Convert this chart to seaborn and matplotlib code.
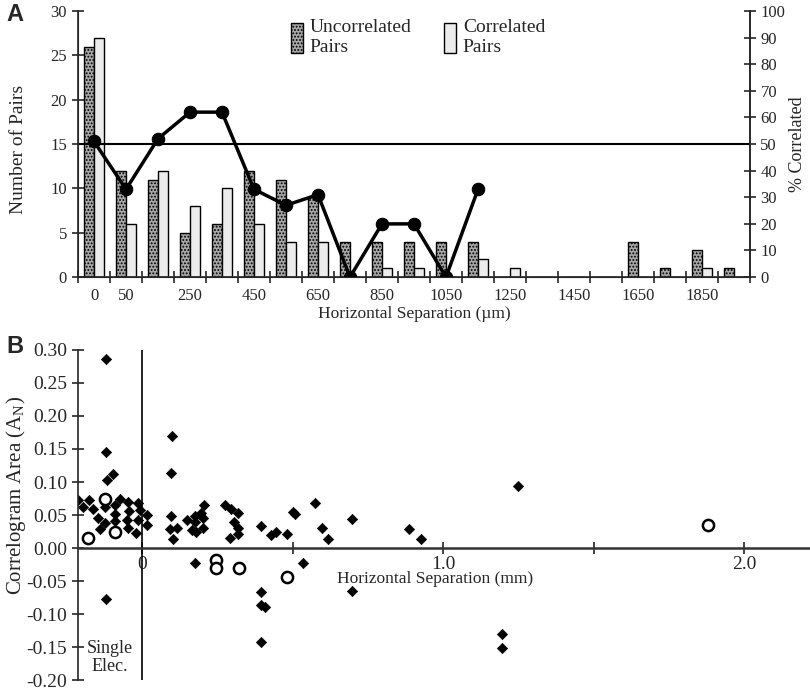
import matplotlib
matplotlib.use('Agg')
import matplotlib.pyplot as plt
from matplotlib.patches import Rectangle
import numpy as np
import pandas as pd
import seaborn as sns

sns.set_style('ticks')
plt.rcParams['font.family'] = ['Liberation Serif', 'DejaVu Serif']
plt.rcParams['hatch.linewidth'] = 0.9

# Panel A: pair counts per horizontal-separation bin (um)
bins = ['0', '50', '150', '250', '350', '450', '550', '650', '750', '850', '950',
        '1050', '1150', '1250', '1350', '1450', '1550', '1650', '1750', '1850', '1950']
uncorrelated = [26, 12, 11, 5, 6, 12, 11, 9, 4, 4, 4, 4, 4, 0, 0, 0, 0, 4, 1, 3, 1]
correlated = [27, 6, 12, 8, 10, 6, 4, 4, 0, 1, 1, 0, 2, 1, 0, 0, 0, 0, 0, 1, 0]
pct_correlated = [51, 33, 52, 62, 62, 33, 27, 31, 0, 20, 20, 0, 33]
shown_labels = ['0', '50', '250', '450', '650', '850', '1050', '1250', '1450', '1650', '1850']

# Panel B: correlogram area vs separation (mm); negative x = single electrode pairs
diamond_x = [-0.212, -0.197, -0.175, -0.164, -0.145, -0.140, -0.120, -0.120, -0.117, -0.095,
             -0.122, -0.122, -0.089, -0.089, -0.089, -0.073, -0.048, -0.044, -0.049, -0.047,
             -0.020, -0.014, -0.014, -0.007, 0.016, 0.016, -0.120,
             0.099, 0.096, 0.096, 0.093, 0.115, 0.104, 0.148, 0.176, 0.176, 0.165,
             0.179, 0.196, 0.202, 0.206, 0.204, 0.276, 0.295, 0.307, 0.319, 0.320,
             0.292, 0.318, 0.395, 0.427, 0.445, 0.483, 0.503, 0.508, 0.575, 0.599,
             0.619, 0.699, 0.888, 0.927, 1.248, 0.177, 0.536, 0.395, 0.395, 0.410,
             0.395, 0.699, 1.197, 1.197]
diamond_y = [0.072, 0.062, 0.072, 0.059, 0.046, 0.029, 0.146, 0.286, 0.103, 0.112,
             0.062, 0.038, 0.065, 0.051, 0.041, 0.075, 0.069, 0.056, 0.043, 0.030,
             0.023, 0.068, 0.043, 0.058, 0.050, 0.035, -0.077,
             0.170, 0.113, 0.049, 0.029, 0.030, 0.013, 0.042, 0.048, 0.040, 0.028,
             0.025, 0.053, 0.046, 0.065, 0.030, 0.065, 0.059, 0.040, 0.053, 0.030,
             0.015, 0.021, 0.034, 0.019, 0.025, 0.021, 0.055, 0.051, 0.068, 0.030,
             0.014, 0.044, 0.029, 0.014, 0.094, -0.023, -0.023, -0.067, -0.086, -0.090,
             -0.142, -0.065, -0.131, -0.152]
circle_x = [-0.178, -0.123, -0.089, 0.246, 0.246, 0.323, 0.481, 1.881]
circle_y = [0.015, 0.074, 0.024, -0.018, -0.031, -0.030, -0.044, 0.035]

fig = plt.figure(figsize=(8.1, 6.91), dpi=100)

# ---------- panel A ----------
ax = fig.add_axes([0.0963, 0.599, 0.8296, 0.385])
df_a = pd.DataFrame({
    'bin': bins * 2,
    'count': uncorrelated + correlated,
    'type': ['Uncorrelated'] * len(bins) + ['Correlated'] * len(bins),
})
sns.barplot(data=df_a, x='bin', y='count', hue='type', order=bins,
            hue_order=['Uncorrelated', 'Correlated'],
            palette=['#a8a8a8', '#ececec'], width=0.62, edgecolor='black',
            linewidth=1, legend=False, ax=ax)
for bar in ax.containers[0]:
    bar.set_hatch('.....')

ax.set_xlim(-0.5, len(bins) - 0.5)
ax.set_ylim(0, 30)
ax.set_yticks(range(0, 31, 5))
ax.set_xticks(np.arange(-0.5, len(bins), 1))
ax.set_xticklabels([])
ax.set_xticks([bins.index(b) for b in shown_labels], minor=True)
ax.set_xticklabels(shown_labels, minor=True)
ax.tick_params(axis='x', which='minor', length=0, labelsize=12, pad=8)
ax.tick_params(axis='both', which='major', direction='inout', length=9, width=1.2, labelsize=12)
ax.set_xlabel('Horizontal Separation (\u00b5m)', fontsize=12.5, labelpad=1)
ax.set_ylabel('Number of Pairs', fontsize=14)
ax.yaxis.set_label_coords(-0.076, 0.48)
ax.spines['top'].set_visible(False)
for s in ['left', 'bottom', 'right']:
    ax.spines[s].set_linewidth(1.2)

ax2 = ax.twinx()
sns.lineplot(x=np.arange(len(pct_correlated)), y=pct_correlated, color='black',
             linewidth=2.5, marker='o', markersize=9, markeredgecolor='black', ax=ax2)
ax2.axhline(50, color='black', linewidth=1.5)
ax2.set_ylim(0, 100)
ax2.set_yticks(range(0, 101, 10))
ax2.tick_params(axis='y', direction='inout', length=9, width=1.2, labelsize=12, pad=3)
ax2.set_ylabel('% Correlated', fontsize=13, labelpad=3)
ax2.spines['top'].set_visible(False)
ax2.spines['right'].set_linewidth(1.2)

handles = [Rectangle((0, 0), 1, 1, facecolor='#a8a8a8', edgecolor='black', hatch='.....'),
           Rectangle((0, 0), 1, 1, facecolor='#ececec', edgecolor='black')]
ax2.legend(handles, ['Uncorrelated\nPairs', 'Correlated\nPairs'], loc='upper center',
           bbox_to_anchor=(0.506, 1.035), ncol=2, frameon=False, handlelength=0.6,
           handleheight=2.0, columnspacing=1.7, handletextpad=0.35, fontsize=14,
           labelspacing=0.2)

# ---------- panel B ----------
axb = fig.add_axes([0.0963, 0.0159, 0.9037, 0.4776])
sns.scatterplot(x=diamond_x, y=diamond_y, marker='D', s=28, color='black',
                edgecolor='black', ax=axb)
sns.scatterplot(x=circle_x, y=circle_y, marker='o', s=65, color='white',
                edgecolor='black', linewidth=1.8, ax=axb, zorder=3)
axb.axvline(0, color='black', linewidth=1.2)
axb.set_xlim(-0.2126, 2.219)
axb.set_ylim(-0.20, 0.30)
yticks = [-0.20, -0.15, -0.10, -0.05, 0.00, 0.05, 0.10, 0.15, 0.20, 0.25, 0.30]
axb.set_yticks(yticks, labels=[f'{v:.2f}' for v in yticks])
axb.set_xticks([0, 0.5, 1.0, 1.5, 2.0], labels=['0', '', '1.0', '', '2.0'])
axb.spines['top'].set_visible(False)
axb.spines['right'].set_visible(False)
axb.spines['bottom'].set_position(('data', 0))
axb.spines['bottom'].set_color('#333333')
axb.spines['bottom'].set_linewidth(1.8)
axb.spines['left'].set_linewidth(1.2)
axb.tick_params(axis='both', direction='inout', length=9, width=1.2, labelsize=14)
axb.tick_params(axis='x', pad=1)
axb.set_ylabel('Correlogram Area (A$_\\mathregular{N}$)', fontsize=15)
axb.yaxis.set_label_coords(-0.068, 0.56)
axb.text(0.973, -0.047, 'Horizontal Separation (mm)', ha='center', va='center', fontsize=12.5)
axb.text(-0.106, -0.166, 'Single\nElec.', ha='center', va='center', fontsize=13, linespacing=1.05)

fig.text(0.008, 0.995, 'A', fontsize=17, fontweight='bold', family='Liberation Sans', va='top')
fig.text(0.008, 0.515, 'B', fontsize=17, fontweight='bold', family='Liberation Sans', va='top')

fig.savefig('out.png', dpi=100)
